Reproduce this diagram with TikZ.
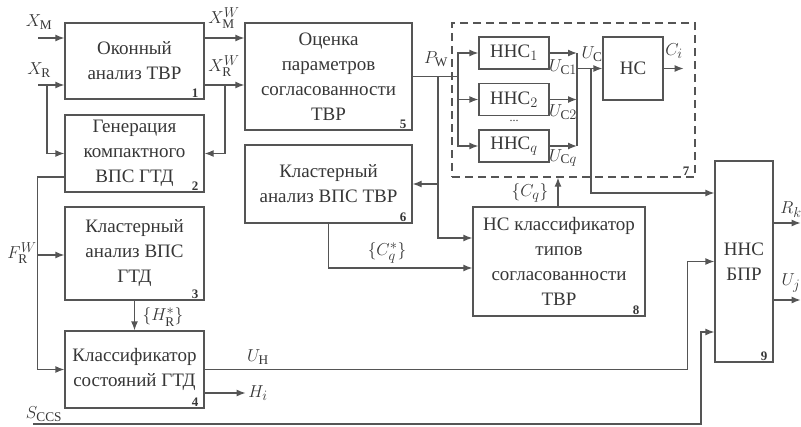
\documentclass[tikz,border=0pt]{standalone}
\usepackage{fontspec}
\usepackage{amsmath}
\setmainfont{Liberation Serif}
\usepackage{tikz}
\usetikzlibrary{positioning,arrows.meta,calc}
\definecolor{bdtext}{RGB}{55,55,55}
\definecolor{bdline}{RGB}{85,85,85}
\tikzset{
  blk/.style={draw=bdline, line width=1.3pt, fill=white, inner sep=0pt,
              font=\fontsize{19}{25}\selectfont, text=bdtext, align=center},
  num/.style={font=\fontsize{13}{13}\selectfont\bfseries, text=bdtext,
              inner xsep=6pt, inner ysep=2pt, anchor=south east},
  sig/.style={font=\fontsize{19}{22}\selectfont, text=bdtext, inner sep=0pt},
  wire/.style={draw=bdline, line width=1.3pt},
  arr/.style={wire, -{Latex[length=9pt,width=7pt]}},
  grp/.style={draw=bdline, line width=1.3pt, dash pattern=on 8pt off 5pt, inner sep=0pt},
}

\begin{document}
\begin{tikzpicture}[x=1pt,y=1pt]
\useasboundingbox (0,0) rectangle (801,-426);
\node[grp, minimum width=243, minimum height=154] (g7) at (573.5,-100) {};
\node[num] (g7-k) at (g7.south east) {7};
\foreach \n/\x/\y/\w/\h/\txt/\k in {
  b1/134.5/61/139/76/{Оконный\\анализ ТВР}/1,
  b2/134.5/153.5/139/77/{Генерация\\компактного\\ВПС ГТД}/2,
  b3/134.5/253.5/139/93/{Кластерный\\анализ ВПС\\ГТД}/3,
  b4/134.5/369.5/139/77/{Классификатор\\состояний ГТД}/4,
  b5/328.5/76.5/167/107/{Оценка\\параметров\\согласованности\\ТВР}/5,
  b6/328.5/184/167/78/{Кластерный\\анализ ВПС ТВР}/6,
  b8/559/261.5/172/109/{НС классификатор\\типов\\согласованности\\ТВР}/8,
  b9/744/261.5/58/201/{ННС\\БПР}/9}
{
  \node[blk, minimum width=\w, minimum height=\h] (\n) at (\x,-\y) {\txt};
  \node[num] (\n-k) at (\n.south east) {\k};
}
\foreach \i/\y/\s in {1/53/1, 2/99.5/2, 3/146/q}
  \node[blk, minimum width=70, minimum height=32] (nn\i) at (514,-\y) {ННС$_\s$};
\node[blk, minimum width=60, minimum height=63] (ns) at (633,-68.5) {НС};
\node[sig] (dots) at (514,-121) {\fontsize{12}{12}\selectfont...};

\coordinate (xm) at (38,-38);
\coordinate (xr) at (38,-85);
\coordinate (xrj) at (47,-85);
\coordinate (xrwj) at (225,-85);
\coordinate (fr) at (38,-255);
\coordinate (sc) at (33,-424);
\coordinate (pw) at (458,-76.5);
\coordinate (pwj) at (438,-76.5);
\coordinate (ub) at (577,-68.5);
\coordinate (ucj) at (591,-68.5);

\draw[arr] (xm) -- (xm -| b1.west);
\draw[arr] (xr) -- (xr -| b1.west);
\draw[arr] (xrj) |- (b2.west);
\draw[arr] (xm -| b1.east) -- (xm -| b5.west);
\draw[arr] (xr -| b1.east) -- (xr -| b5.west);
\draw[arr] (xrwj) |- (b2.east);
\draw[arr] ([yshift=-23.5pt]b2.west) -- ++(-27,0) |- (b4.west);
\draw[arr] (fr) -- (fr -| b3.west);
\draw[arr] (b3.south) -- (b4.north);
\draw[arr] (b4.east) -- ++(483,0) |- (b9.west);
\draw[arr] ([yshift=-23.5pt]b4.east) -- ++(41,0)
  node[sig, anchor=west, xshift=2pt] (lhi) {$H_i$};
\draw[arr] (sc) -- ++(668,0) |- ([yshift=-70.5pt]b9.west);

\draw[wire] (b5.east) -- (pw);
\foreach \i in {1,2,3}
  \draw[arr] (pw) |- (nn\i.west);
\draw[arr] (pwj) |- (b6.east);
\draw[arr] (pwj) |- ([yshift=23.5pt]b8.west);
\draw[arr] (b6.south) |- ([yshift=-6.5pt]b8.west);
\draw[arr] ([xshift=-1pt]b8.north) -- ([xshift=-1pt]b8.north |- g7.south);
\foreach \i in {1,2,3}
  \draw[arr] (nn\i.east) -- (nn\i.east -| ub);
\draw[wire] (nn1.east -| ub) -- (nn3.east -| ub);
\draw[arr] (ub) -- (ns.west);
\draw[arr] (ucj) |- ([yshift=68.5pt]b9.west);
\draw[arr] (ns.east) -- ++(20,0);
\draw[arr] ([yshift=38.5pt]b9.east) -- ++(27,0);
\draw[arr] ([yshift=-38.5pt]b9.east) -- ++(27,0);

\node[sig] (lxm) at (39,-22) {$X_{\text{М}}$};
\node[sig] (lxr) at (39,-70) {$X_{\text{R}}$};
\node[sig] (lxmw) at (224,-18) {$X_{\text{М}}^{W}$};
\node[sig] (lxrw) at (224,-66) {$X_{\text{R}}^{W}$};
\node[sig] (lfr) at (22,-253) {$F_{\text{R}}^{W}$};
\node[sig] (lhr) at (163,-317) {$\{H_{\text{R}}^{*}\}$};
\node[sig] (luh) at (258,-357) {$U_{\text{Н}}$};
\node[sig] (lsc) at (44,-414) {$S_{\text{ССS}}$};
\node[sig] (lpw) at (436,-59) {$P_{\text{W}}$};
\node[sig] (lcqs) at (387,-253) {$\{C_q^{*}\}$};
\node[sig] (lcq) at (530,-193) {$\{C_q\}$};
\node[sig] (luc1) at (563,-67) {$U_{\text{С}1}$};
\node[sig] (luc2) at (563,-112) {$U_{\text{С}2}$};
\node[sig] (lucq) at (563,-158) {$U_{\text{С}q}$};
\node[sig] (luc) at (592,-54) {$U_{\text{С}}$};
\node[sig] (lci) at (674,-51) {$C_i$};
\node[sig] (lrk) at (791,-210) {$R_k$};
\node[sig] (luj) at (791,-283) {$U_j$};
\end{tikzpicture}
\end{document}
